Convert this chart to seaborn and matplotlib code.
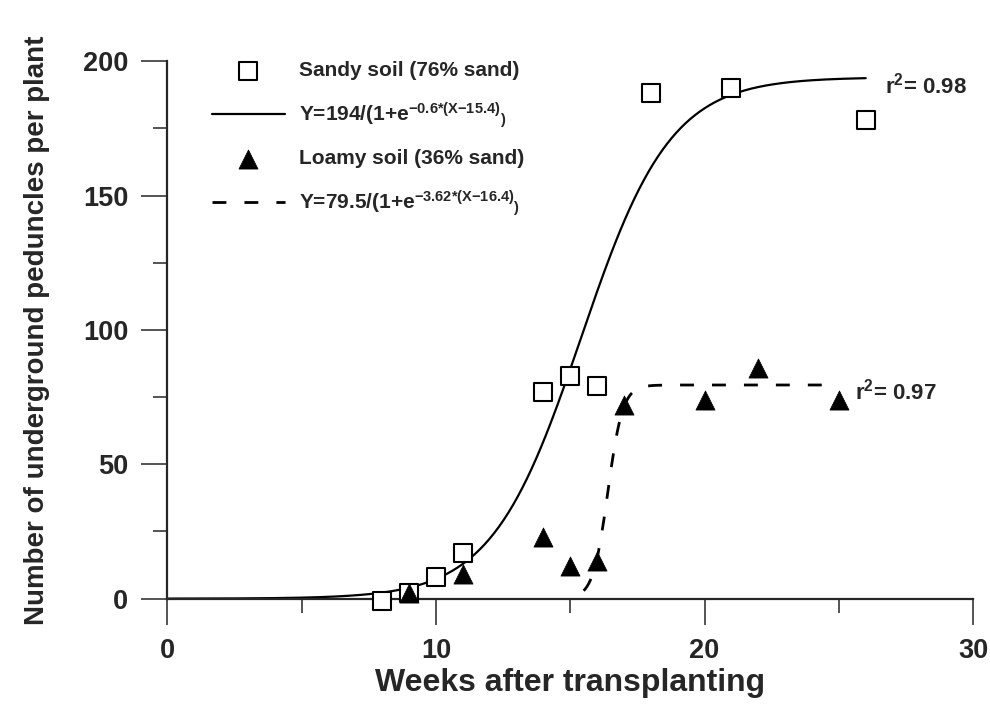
import numpy as np
import pandas as pd
import matplotlib.pyplot as plt
import seaborn as sns

# observed peduncles, sandy soil (76% sand)
sandy_weeks = [8, 9, 10, 11, 14, 15, 16, 18, 21, 26]
sandy_count = [-1, 2, 8, 17, 77, 83, 79, 188, 190, 178]

# observed peduncles, loamy soil (36% sand)
loamy_weeks = [9, 11, 14, 15, 16, 17, 20, 22, 25]
loamy_count = [2, 9, 23, 12, 14, 72, 74, 86, 74]

# logistic fits from the legend: Y = a / (1 + e^(-b*(X-c)))
sandy_fit = [194, 0.6, 15.4]
loamy_fit = [79.5, 3.62, 16.4]
sandy_span = [0, 26]
loamy_span = [15.5, 24.6]

sandy_r2 = "0.98"
loamy_r2 = "0.97"

sns.set_style("ticks")
plt.rcParams['font.family'] = ['Liberation Sans', 'DejaVu Sans']
plt.rcParams['font.weight'] = 'bold'
plt.rcParams['mathtext.fontset'] = 'custom'
plt.rcParams['mathtext.rm'] = 'Liberation Sans:bold'
plt.rcParams['mathtext.it'] = 'Liberation Sans:bold'
plt.rcParams['mathtext.bf'] = 'Liberation Sans:bold'
plt.rcParams['mathtext.default'] = 'rm'


def logistic(x, a, b, c):
    return a / (1 + np.exp(-b * (x - c)))


sandy = pd.DataFrame({'week': sandy_weeks, 'count': sandy_count})
loamy = pd.DataFrame({'week': loamy_weeks, 'count': loamy_count})

xs = np.linspace(sandy_span[0], sandy_span[1], 300)
sandy_curve = pd.DataFrame({'week': xs, 'count': logistic(xs, *sandy_fit)})
xl = np.linspace(loamy_span[0], loamy_span[1], 300)
loamy_curve = pd.DataFrame({'week': xl, 'count': logistic(xl, *loamy_fit)})

fig = plt.figure(figsize=(9.9, 7.11), dpi=100)
ax = fig.add_axes([0.169, 0.158, 0.814, 0.756])

sns.scatterplot(data=sandy, x='week', y='count', marker='s', s=160,
                facecolor='white', edgecolor='black', linewidth=1.5,
                clip_on=False, zorder=3, label='Sandy soil (76% sand)', ax=ax)
sns.lineplot(data=sandy_curve, x='week', y='count', color='black', linewidth=1.6,
             label=r'Y=194/(1+e$^{-0.6{*}(X{-}15.4)}{}_{)}$', ax=ax)
sns.scatterplot(data=loamy, x='week', y='count', marker='^', s=190,
                color='black', edgecolor='black', linewidth=0.5,
                clip_on=False, zorder=3, label='Loamy soil (36% sand)', ax=ax)
sns.lineplot(data=loamy_curve, x='week', y='count', color='black', linewidth=2,
             dashes=False, ax=ax,
             label=r'Y=79.5/(1+e$^{-3.62{*}(X{-}16.4)}{}_{)}$')
ax.lines[-1].set_dashes([5, 6.5])

ax.text(26.7, 191, r'r$^{2}$= ' + sandy_r2, fontsize=16, fontweight='bold', va='center')
ax.text(25.6, 77, r'r$^{2}$= ' + loamy_r2, fontsize=16, fontweight='bold', va='center')

ax.set_xlim(0, 30)
ax.set_ylim(0, 200)
ax.set_xticks([0, 10, 20, 30])
ax.set_xticks([5, 15, 25], minor=True)
ax.set_yticks([0, 50, 100, 150, 200])
ax.set_yticks([25, 75, 125, 175], minor=True)
ax.tick_params(which='major', length=19, width=1.1, labelsize=19.5, pad=9)
ax.tick_params(which='minor', length=10, width=1.1)
for lab in ax.get_xticklabels() + ax.get_yticklabels():
    lab.set_fontweight('bold')
sns.despine(ax=ax)
for side in ['left', 'bottom']:
    ax.spines[side].set_linewidth(1.6)

ax.set_xlabel('Weeks after transplanting', fontsize=23, fontweight='bold', labelpad=3)
ax.set_ylabel('Number of underground peduncles per plant', fontsize=20,
              fontweight='bold', labelpad=24)

h, l = ax.get_legend_handles_labels()
ax.legend(h, l, loc='upper left', bbox_to_anchor=(0.055, 1.0), frameon=False,
          fontsize=15, handlelength=3.5, handletextpad=0.7, labelspacing=0.95,
          borderpad=0, borderaxespad=0)

fig.savefig('out.png', dpi=100)
